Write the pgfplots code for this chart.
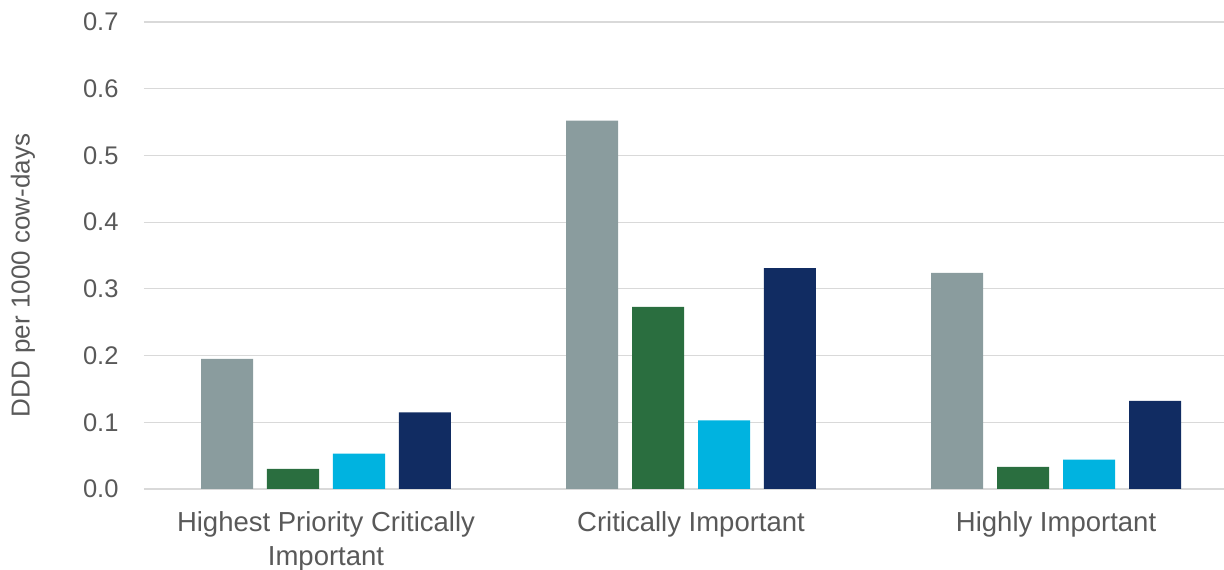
\documentclass[border=0pt]{standalone}
\usepackage{pgfplots}
\pgfplotsset{compat=1.18}
\usepackage{fontspec}
\setmainfont{Liberation Sans}
\definecolor{txt}{HTML}{595959}
\definecolor{gridc}{HTML}{D9D9D9}
\definecolor{cgrey}{HTML}{8A9C9E}
\definecolor{cgreen}{HTML}{2A6E3F}
\definecolor{ccyan}{HTML}{00B3E0}
\definecolor{cnavy}{HTML}{112C62}
\begin{document}
\begin{tikzpicture}
\begin{axis}[
  scale only axis,
  width=1080bp, height=467bp,
  xmin=-0.4986, xmax=2.46,
  ymin=0, ymax=0.7,
  ytick={0,0.1,...,0.7},
  yticklabel style={/pgf/number format/fixed,/pgf/number format/fixed zerofill,/pgf/number format/precision=1},
  /pgf/number format/assume math mode=true,
  xtick={0,1,2},
  xticklabels={{Highest Priority Critically\\Important},{Critically Important},{Highly Important}},
  xticklabel style={align=center, text=txt, font=\fontsize{27.5bp}{34bp}\selectfont, yshift=-19bp},
  yticklabel style={text=txt, font=\fontsize{25.5bp}{30bp}\selectfont, xshift=-22bp},
  ylabel={DDD per 1000 cow-days},
  every axis y label/.style={at={(rel axis cs:0,0.5)}, xshift=-121bp, yshift=-20bp, rotate=90, anchor=center,
    text=txt, font=\fontsize{26bp}{30bp}\selectfont},
  axis line style={draw=none},
  major tick length=0pt,
  ymajorgrids,
  grid style={draw=gridc, line width=1.2bp},
  ybar,
  bar width=0.1425,
  clip=false,
]
\addplot[fill=cgrey, draw=none, bar shift=-0.271] coordinates {(0,0.195) (1,0.552) (2,0.324)};
\addplot[fill=cgreen, draw=none, bar shift=-0.0904] coordinates {(0,0.030) (1,0.273) (2,0.033)};
\addplot[fill=ccyan, draw=none, bar shift=0.0904] coordinates {(0,0.053) (1,0.103) (2,0.044)};
\addplot[fill=cnavy, draw=none, bar shift=0.271] coordinates {(0,0.115) (1,0.331) (2,0.132)};
\coordinate (sw) at (rel axis cs:0,0);
\coordinate (ne) at (rel axis cs:1,1);
\end{axis}
\pgfresetboundingbox
\path ([xshift=-144bp,yshift=-81bp]sw) rectangle ([yshift=22bp]ne);
\end{tikzpicture}
\end{document}
